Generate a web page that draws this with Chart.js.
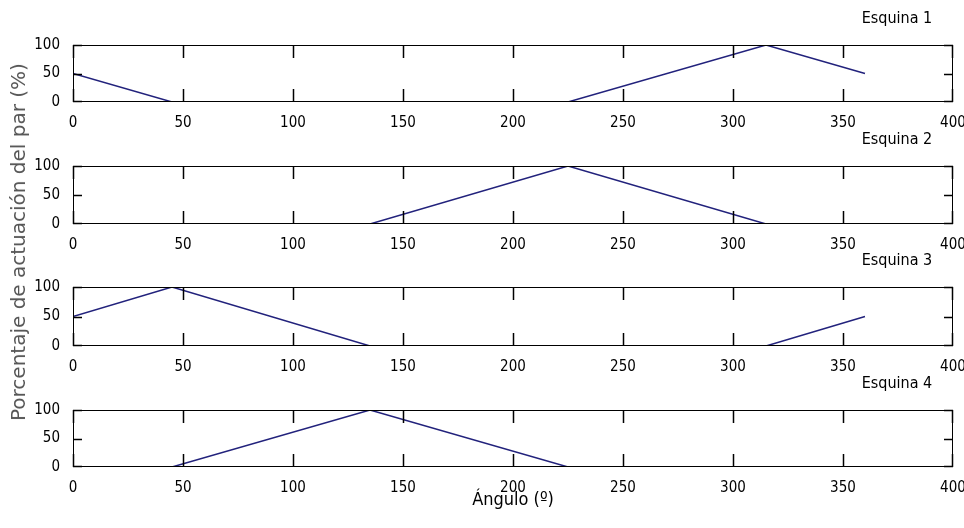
<!DOCTYPE html>
<html>
<head>
<meta charset="utf-8">
<title>Esquinas</title>
<script src="https://cdn.jsdelivr.net/npm/chart.js@4.4.1/dist/chart.umd.min.js"></script>
<style>
  html, body { margin: 0; padding: 0; background: #fff; }
  #page { position: relative; width: 964px; height: 528px; background: #fff; overflow: hidden; }
  .box { position: absolute; left: 0; width: 964px; }
  #ylabel {
    position: absolute; left: 18px; top: 242px; white-space: nowrap;
    transform: translate(-50%, -50%) rotate(-90deg);
    font: 20px 'DejaVu Sans', sans-serif; color: #555;
  }
</style>
</head>
<body>
<div id="page">
  <div class="box" id="box-0"><canvas id="chart-0"></canvas></div>
  <div class="box" id="box-1"><canvas id="chart-1"></canvas></div>
  <div class="box" id="box-2"><canvas id="chart-2"></canvas></div>
  <div class="box" id="box-3"><canvas id="chart-3"></canvas></div>
  <div id="ylabel">Porcentaje de actuación del par (%)</div>
</div>
<script>
'use strict';

//**************DATA********** */
let angles = [0, 45, 135, 225, 315, 360];
let esquina1 = [50, 0, 0, 0, 100, 50];
let esquina2 = [0, 0, 0, 100, 0, 0];
let esquina3 = [50, 100, 0, 0, 0, 50];
let esquina4 = [0, 0, 100, 0, 0, 0];
let titles = ['Esquina 1', 'Esquina 2', 'Esquina 3', 'Esquina 4'];
let xTicks = [0, 50, 100, 150, 200, 250, 300, 350, 400];
let yTicks = [0, 50, 100];
let xLabel = 'Ángulo (º)';

let allSeries = [esquina1, esquina2, esquina3, esquina4];

//**************LAYOUT********** */
let plotTops = [45, 166, 287, 410];
let plotBottoms = [102, 224, 346, 467];
let topSpace = 40;
let narrow = "'Liberation Sans Narrow', 'DejaVu Sans Condensed', sans-serif";

//**************PLUGIN: matlab style box, inward ticks and title********** */
let matlabBox = {
  id: 'matlabBox',
  afterDatasetsDraw(chart, args, opts) {
    let c = chart.ctx;
    let area = chart.chartArea;
    let xs = chart.scales.x;
    let ys = chart.scales.y;
    let l = Math.round(area.left);
    let r = Math.round(area.right) - 1;
    let t = Math.round(area.top);
    let b = Math.round(area.bottom) - 1;
    c.save();
    c.fillStyle = '#000';
    c.strokeStyle = '#000';
    // frame
    c.fillRect(l, t, r - l + 1, 1);
    c.fillRect(l, b, r - l + 1, 1);
    c.fillRect(l, t, 1, b - t + 1);
    c.fillRect(r, t, 1, b - t + 1);
    // inward ticks, drawn a touch wider so they survive resampling
    c.lineWidth = 1.5;
    c.beginPath();
    xTicks.forEach(function (v) {
      let px = Math.min(Math.round(xs.getPixelForValue(v)), r) + 0.5;
      c.moveTo(px, b + 1); c.lineTo(px, b - 12);
      c.moveTo(px, t); c.lineTo(px, t + 13);
    });
    yTicks.forEach(function (v) {
      let py = Math.min(Math.round(ys.getPixelForValue(v)), b) + 0.5;
      c.moveTo(l, py); c.lineTo(l + 9, py);
      c.moveTo(r + 1, py); c.lineTo(r - 8, py);
    });
    c.stroke();

    c.font = '16px ' + narrow;
    c.textAlign = 'center';
    c.textBaseline = 'middle';
    c.fillText(opts.text, area.right - 56, area.top - 26);
    c.restore();
  }
};

function tickCallback(list) {
  return function (value) {
    return list.includes(value) ? String(value) : '';
  };
}

function makeChart(i) {
  let isLast = i === 3;
  let bottomSpace = isLast ? 61 : 30;
  let box = document.getElementById('box-' + i);
  box.style.top = (plotTops[i] - topSpace) + 'px';
  box.style.height = (plotBottoms[i] - plotTops[i] + topSpace + bottomSpace) + 'px';

  let points = [];
  for (let k = 0; k < angles.length; k++) {
    points.push({ x: angles[k], y: allSeries[i][k] });
  }

  let hidden = {
    border: { display: false },
    grid: { display: false },
    ticks: { display: false }
  };

  let chartObj = {
    type: 'line',
    data: {
      datasets: [{
        label: titles[i],
        data: points,
        borderColor: '#22227c',
        borderWidth: 1.5,
        pointRadius: 0,
        tension: 0,
        fill: false
      }]
    },
    options: {
      responsive: true,
      maintainAspectRatio: false,
      animation: false,
      layout: { padding: 0 },
      plugins: {
        legend: { display: false },
        tooltip: { enabled: false },
        matlabBox: { text: titles[i] }
      },
      scales: {
        x: {
          type: 'linear',
          position: 'bottom',
          min: xTicks[0],
          max: xTicks[xTicks.length - 1],
          border: { display: false },
          grid: { display: false },
          ticks: {
            stepSize: 50, autoSkip: false, maxRotation: 0, padding: 4,
            color: '#000', font: { family: narrow, size: 15 },
            callback: tickCallback(xTicks)
          },
          title: {
            display: isLast, text: xLabel, color: '#000',
            font: { family: narrow, size: 18 }, padding: { top: 0, bottom: 17 }
          },
          afterFit(scale) {
            scale.height = bottomSpace;
            scale.paddingLeft = 0;
            scale.paddingRight = 0;
          }
        },
        x2: Object.assign({
          type: 'linear', position: 'top',
          afterFit(scale) { scale.height = topSpace; }
        }, hidden),
        y: {
          type: 'linear',
          position: 'left',
          min: yTicks[0],
          max: yTicks[yTicks.length - 1],
          border: { display: false },
          grid: { display: false },
          ticks: {
            stepSize: 50, padding: 5, color: '#000',
            font: { family: narrow, size: 15 },
            callback: tickCallback(yTicks)
          },
          afterFit(scale) {
            scale.width = 73;
            scale.paddingTop = 0;
            scale.paddingBottom = 0;
          }
        },
        y2: Object.assign({
          type: 'linear', position: 'right',
          afterFit(scale) { scale.width = 11; }
        }, hidden)
      }
    },
    plugins: [matlabBox]
  };

  new Chart(document.getElementById('chart-' + i), chartObj);
}

//************EXECUTABLE CODE*********** */
for (let i = 0; i < titles.length; i++) {
  makeChart(i);
}
</script>
</body>
</html>
